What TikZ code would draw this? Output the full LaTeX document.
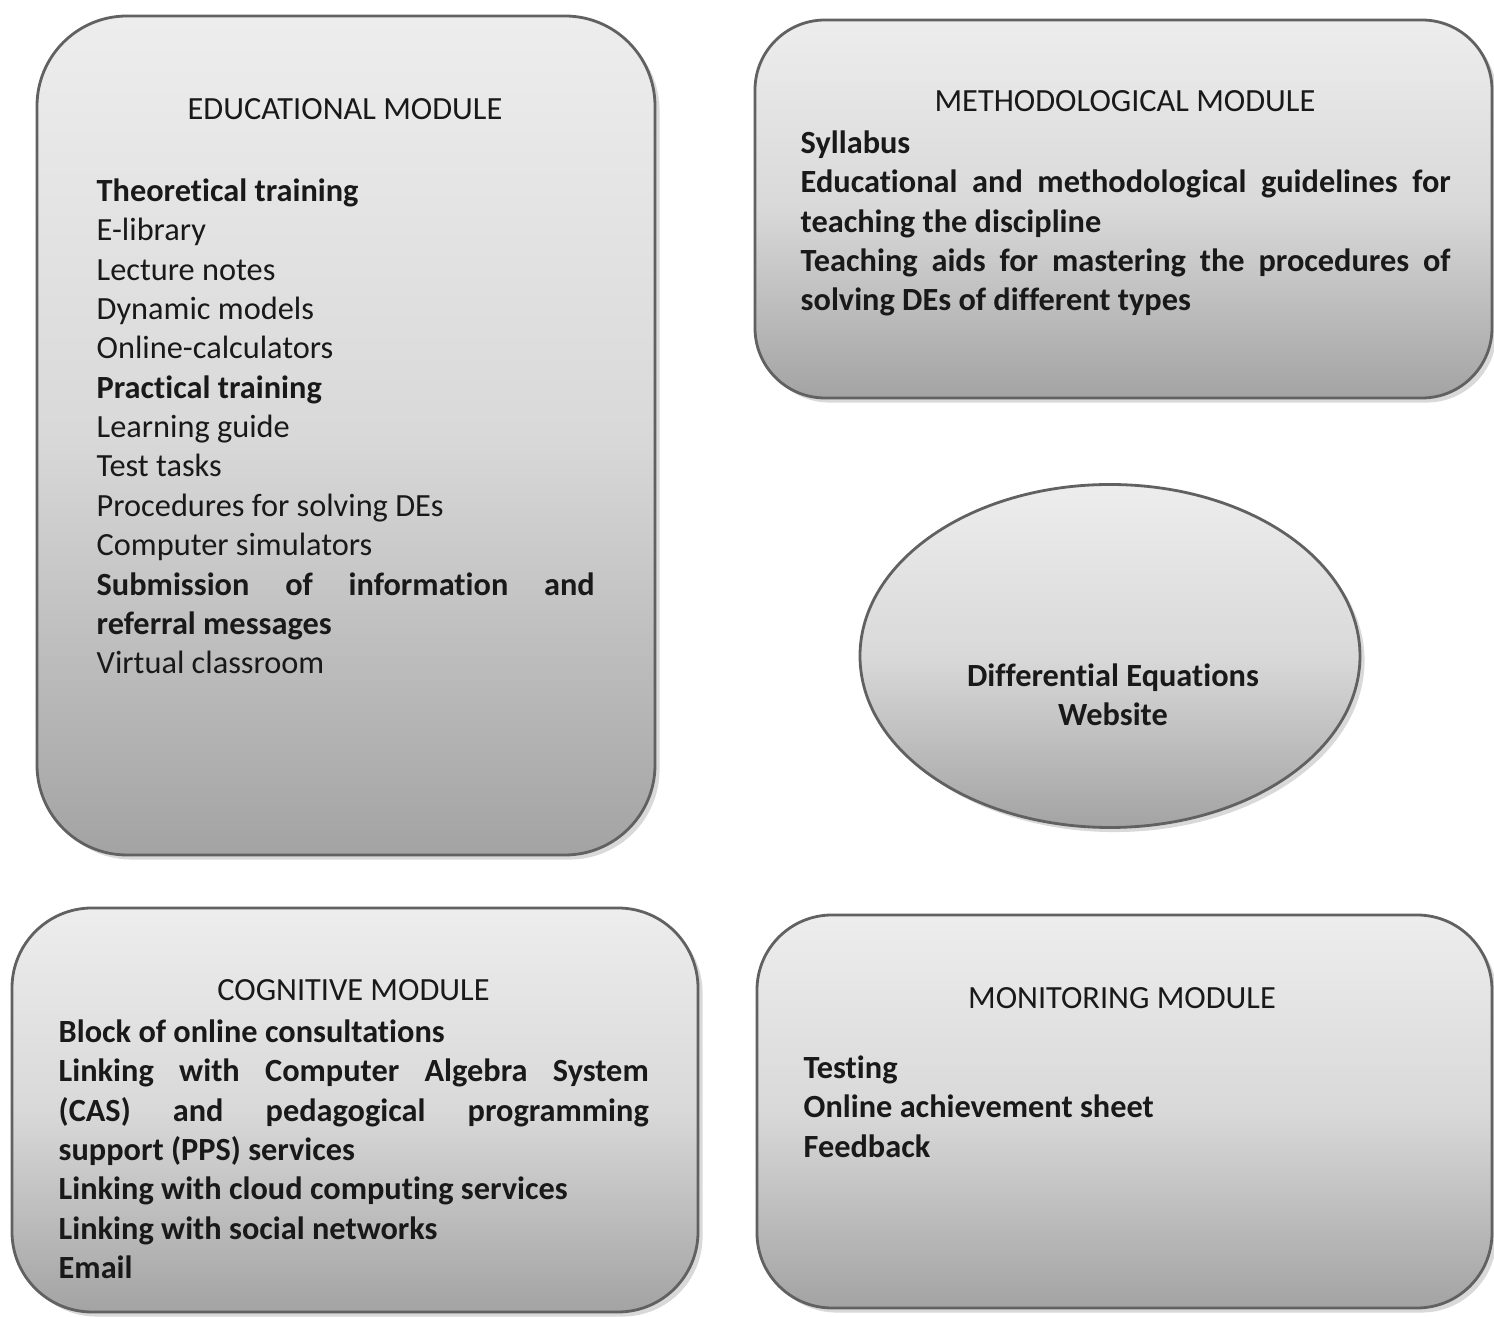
\documentclass[tikz,border=0pt]{standalone}
\usepackage{fontspec}
\setmainfont{Carlito}[Ligatures=NoCommon]
\usetikzlibrary{shapes.geometric,shadows}
\tikzset{
  module/.style={draw=black!62,line width=0.8pt,top color=black!7,bottom color=black!36,middle color=black!15,
    drop shadow={shadow xshift=1.3pt,shadow yshift=-1.3pt,opacity=0.3}},
  txt/.style={font=\fontsize{9.2}{11.2}\selectfont,text=black!90},
  boldtxt/.style={font=\fontsize{9.2}{11.2}\selectfont\bfseries,text=black!90},
  head/.style={txt,anchor=base,inner sep=0pt},
  items/.style={txt,anchor=north west,inner sep=0pt,align=justify},
  bolditems/.style={items,boldtxt},
}
\begin{document}
\begin{tikzpicture}[x=1cm,y=-1cm]
\useasboundingbox (0,0) rectangle (14.94,13.17);
\node[module,minimum width=6.18cm,minimum height=8.39cm,rounded corners=0.9cm] (edubox) at (3.46,4.355) {};
\node[module,minimum width=7.37cm,minimum height=3.78cm,rounded corners=0.7cm] (methbox) at (11.235,2.09) {};
\node[module,ellipse,minimum width=5cm,minimum height=3.43cm,inner sep=0pt] (site) at (11.1,6.56) {};
\node[module,minimum width=6.86cm,minimum height=4.04cm,rounded corners=0.8cm] (cogbox) at (3.55,11.10) {};
\node[module,minimum width=7.35cm,minimum height=3.93cm,rounded corners=0.75cm] (monbox) at (11.245,11.115) {};

\node[head] (eduhead) at (3.45,1.20) {EDUCATIONAL MODULE};
\node[items,text width=4.98cm] (edulist) at (0.96,1.78) {\textbf{Theoretical training}\par E-library\par Lecture notes\par Dynamic models\par Online-calculators\par \textbf{Practical training}\par Learning guide\par Test tasks\par Procedures for solving DEs\par Computer simulators\par \textbf{Submission of information and\linebreak referral messages}\par Virtual classroom};

\node[head] (methhead) at (11.25,1.12) {METHODOLOGICAL MODULE};
\node[bolditems,text width=6.5cm] (methlist) at (8.00,1.30) {Syllabus\par Educational and methodological guidelines for\linebreak teaching the discipline\par Teaching aids for mastering the procedures of\linebreak solving DEs of different types};

\node[boldtxt,align=center] (sitename) at (11.13,6.95) {Differential Equations\\Website};

\node[head] (coghead) at (3.535,10.01) {COGNITIVE MODULE};
\node[bolditems,text width=5.9cm] (coglist) at (0.58,10.19) {Block of online consultations\par Linking with Computer Algebra System\linebreak (CAS) and pedagogical programming\linebreak support (PPS) services\par Linking with cloud computing services\par Linking with social networks\par Email};

\node[head] (monhead) at (11.22,10.09) {MONITORING MODULE};
\node[bolditems,text width=5cm] (monlist) at (8.03,10.55) {Testing\par Online achievement sheet\par Feedback};
\end{tikzpicture}
\end{document}
